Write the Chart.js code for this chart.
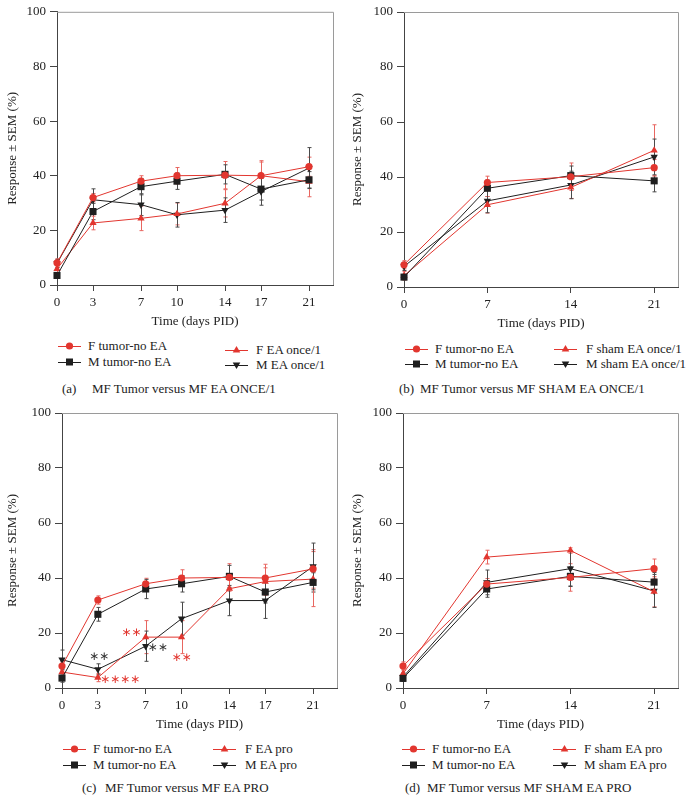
<!DOCTYPE html>
<html>
<head>
<meta charset="utf-8">
<script src="https://cdn.jsdelivr.net/npm/chart.js@4.4.1/dist/chart.umd.min.js"></script>
<style>
  body { margin: 0; background: #fff; width: 689px; height: 804px; position: relative; overflow: hidden;
         font-family: "Liberation Serif", "DejaVu Serif", serif; color: #222; }
  canvas { position: absolute; }
  .leg { position: absolute; font-size: 13px; line-height: 16px; white-space: nowrap; }
  .cap { position: absolute; font-size: 13px; line-height: 16px; white-space: pre; }
  svg { position: absolute; }
</style>
</head>
<body>
<script>
// days post implant
const daysLong = [0, 3, 7, 10, 14, 17, 21];
const daysShort = [0, 7, 14, 21];

// (a) MF tumor vs MF EA once/1
const aFTumor = [8.1, 32, 38, 40, 40.2, 40, 43.3];
const aFTumorErr = [1.5, 1.5, 2, 3, 5, 5, 3.5];
const aMTumor = [3.5, 26.9, 36, 38, 40.5, 35.1, 38.5];
const aMTumorErr = [1, 3, 3, 3, 3.5, 4, 3];
const aFOnce = [5.9, 22.7, 24.4, 26, 29.9, 40, 37.8];
const aFOnceErr = [1.5, 2.5, 4.5, 4, 5, 5.5, 5.5];
const aMOnce = [7.9, 31.2, 29.4, 25.7, 27.4, 34.2, 42.8];
const aMOnceErr = [1.5, 4, 4, 4.5, 4.5, 5, 7.5];

// (b) MF tumor vs MF sham EA once/1
const bFTumor = [8.1, 38, 40.1, 43.4];
const bFTumorErr = [1.5, 2.3, 5, 3];
const bMTumor = [3.6, 35.9, 40.5, 38.6];
const bMTumorErr = [1, 3, 3.5, 4];
const bFSham = [4.1, 29.9, 36.2, 49.7];
const bFShamErr = [1.5, 3, 4, 9.3];
const bMSham = [7.5, 31.3, 37.1, 47.3];
const bMShamErr = [1.5, 4.3, 5, 6.5];

// (c) MF tumor vs MF EA pro
const cFTumor = [8, 32, 37.9, 40, 40.2, 40, 43.3];
const cFTumorErr = [1.5, 1.5, 2, 3, 5, 5, 7];
const cMTumor = [3.6, 26.8, 36, 37.9, 40.6, 34.9, 38.4];
const cMTumorErr = [1.5, 2.5, 3.5, 3, 4, 4, 3.5];
const cFPro = [5.8, 3.8, 18.5, 18.5, 36.1, 38.7, 39.6];
const cFProErr = [2, 1.5, 6, 6, 4, 5, 10];
const cMPro = [10.3, 6.8, 15.2, 25.2, 31.8, 31.8, 44.2];
const cMProErr = [3.5, 2, 5.5, 6, 5.5, 6.5, 8.5];
// significance marks: [day, value, text, red?]
const cMarks = [
  [3.1, 11.3, '∗∗', false],
  [5.8, 20, '∗∗', true],
  [8.0, 14.5, '∗∗', false],
  [10.0, 10.9, '∗∗', true],
  [4.85, 2.9, '∗∗∗∗', true]
];

// (d) MF tumor vs MF sham EA pro
const dFTumor = [8, 37.8, 40.2, 43.4];
const dFTumorErr = [1.5, 2, 5, 3.5];
const dMTumor = [3.5, 36, 40.6, 38.5];
const dMTumorErr = [1, 3, 3.5, 3.5];
const dFSham = [5.2, 47.6, 50, 35];
const dFShamErr = [1.5, 2.5, 1, 5.5];
const dMSham = [4, 38.4, 43.4, 35.3];
const dMShamErr = [1.5, 4.5, 6.5, 6];

const RED = '#e2362f';
const DARK = '#1f1f1f';
const RED_ERR = '#e86660';
const DARK_ERR = '#4a4a4a';
const FONT = '"Liberation Serif", "DejaVu Serif", serif';

const kinds = {
  fTumor: { color: RED, err: RED_ERR, style: 'circle', radius: 3.6, rot: 0 },
  mTumor: { color: DARK, err: DARK_ERR, style: 'rect', radius: 5, rot: 0 },
  fEA: { color: RED, err: RED_ERR, style: 'triangle', radius: 4.2, rot: 0 },
  mEA: { color: DARK, err: DARK_ERR, style: 'triangle', radius: 4.2, rot: 180 }
};

const panels = [
  { left: 0, top: 0, w: 345, plot: { l: 57, t: 10, r: 333, b: 285 }, days: daysLong,
    series: [['fTumor', 'F tumor-no EA', aFTumor, aFTumorErr], ['mTumor', 'M tumor-no EA', aMTumor, aMTumorErr],
             ['fEA', 'F EA once/1', aFOnce, aFOnceErr], ['mEA', 'M EA once/1', aMOnce, aMOnceErr]],
    leg: [[58, 346], [58, 362], [225, 350], [225, 365]], legText: [88, 88, 256, 256],
    cap: [[62, 389, '(a)'], [92, 389, 'MF Tumor versus MF EA ONCE/1']], marks: [] },
  { left: 345, top: 0, w: 344, plot: { l: 59, t: 12, r: 333, b: 287 }, days: daysShort,
    series: [['fTumor', 'F tumor-no EA', bFTumor, bFTumorErr], ['mTumor', 'M tumor-no EA', bMTumor, bMTumorErr],
             ['fEA', 'F sham EA once/1', bFSham, bFShamErr], ['mEA', 'M sham EA once/1', bMSham, bMShamErr]],
    leg: [[405, 349], [405, 364], [554, 349], [554, 364]], legText: [435, 435, 586, 586],
    cap: [[399, 389, '(b)'], [420, 389, 'MF Tumor versus MF SHAM EA ONCE/1']], marks: [] },
  { left: 0, top: 400, w: 345, plot: { l: 62, t: 13, r: 337, b: 288 }, days: daysLong,
    series: [['fTumor', 'F tumor-no EA', cFTumor, cFTumorErr], ['mTumor', 'M tumor-no EA', cMTumor, cMTumorErr],
             ['fEA', 'F EA pro', cFPro, cFProErr], ['mEA', 'M EA pro', cMPro, cMProErr]],
    leg: [[63, 749], [63, 765], [213, 749], [213, 765]], legText: [93, 93, 245, 245],
    cap: [[82, 788, '(c)'], [105, 788, 'MF Tumor versus MF EA PRO']], marks: cMarks },
  { left: 345, top: 400, w: 344, plot: { l: 58, t: 13, r: 333, b: 288 }, days: daysShort,
    series: [['fTumor', 'F tumor-no EA', dFTumor, dFTumorErr], ['mTumor', 'M tumor-no EA', dMTumor, dMTumorErr],
             ['fEA', 'F sham EA pro', dFSham, dFShamErr], ['mEA', 'M sham EA pro', dMSham, dMShamErr]],
    leg: [[402, 749], [402, 765], [553, 749], [553, 765]], legText: [432, 432, 584, 584],
    cap: [[405, 788, '(d)'], [427, 788, 'MF Tumor versus MF SHAM EA PRO']], marks: [] }
];

// error bars under the markers
const errorBars = {
  id: 'errorBars',
  beforeDatasetsDraw(chart) {
    const { ctx, scales: { x, y } } = chart;
    ctx.save();
    ctx.lineWidth = 1;
    chart.data.datasets.forEach((ds, i) => {
      ds.errors.forEach((e, j) => {
        const px = Math.round(x.getPixelForValue(ds.data[j].x)) + 0.5;
        const y1 = y.getPixelForValue(ds.data[j].y + e);
        const y2 = y.getPixelForValue(ds.data[j].y - e);
        ctx.strokeStyle = ds.errColor;
        ctx.beginPath();
        ctx.moveTo(px, y1); ctx.lineTo(px, y2);
        ctx.moveTo(px - 2, y1); ctx.lineTo(px + 2, y1);
        ctx.moveTo(px - 2, y2); ctx.lineTo(px + 2, y2);
        ctx.stroke();
      });
    });
    ctx.restore();
  }
};

// grey top/right frame + significance stars
const frame = {
  id: 'frame',
  afterDraw(chart, args, opts) {
    const { ctx, chartArea: a, scales: { x, y } } = chart;
    ctx.save();
    ctx.strokeStyle = '#9a9a9a';
    ctx.lineWidth = 1;
    ctx.beginPath();
    ctx.moveTo(a.left, a.top + 0.5); ctx.lineTo(a.right + 0.5, a.top + 0.5);
    ctx.lineTo(a.right + 0.5, a.bottom);
    ctx.stroke();
    ctx.font = '12px "DejaVu Sans", sans-serif';
    ctx.textAlign = 'center';
    ctx.textBaseline = 'middle';
    (opts.marks || []).forEach(m => {
      ctx.fillStyle = m[3] ? RED : '#333';
      ctx.fillText(m[2], x.getPixelForValue(m[0]), y.getPixelForValue(m[1]));
    });
    ctx.restore();
  }
};

function markerSvg(k) {
  const s = kinds[k];
  let m = '';
  if (s.style === 'circle') m = `<circle cx="11.5" cy="5" r="3.6" fill="${s.color}"/>`;
  else if (s.style === 'rect') m = `<rect x="8" y="1.5" width="7" height="7" fill="${s.color}"/>`;
  else if (s.rot === 0) m = `<polygon points="11.5,1 15.3,7.6 7.7,7.6" fill="${s.color}"/>`;
  else m = `<polygon points="11.5,9 15.3,2.4 7.7,2.4" fill="${s.color}"/>`;
  return `<line x1="0" y1="5.5" x2="23" y2="5.5" stroke="${s.color}" stroke-width="1"/>` + m;
}

panels.forEach(p => {
  const h = p.plot.b + 50;
  const cv = document.createElement('canvas');
  cv.width = p.w; cv.height = h;
  cv.style.left = p.left + 'px'; cv.style.top = p.top + 'px';
  document.body.appendChild(cv);

  const datasets = p.series.map(([k, label, vals, errs]) => {
    const s = kinds[k];
    return {
      label,
      data: p.days.map((d, i) => ({ x: d, y: vals[i] })),
      errors: errs,
      errColor: s.err,
      borderColor: s.color,
      backgroundColor: s.color,
      borderWidth: 1,
      pointStyle: s.style,
      pointRadius: s.radius,
      pointRotation: s.rot,
      pointBorderWidth: 0,
      pointBackgroundColor: s.color,
      tension: 0,
      clip: false
    };
  });

  new Chart(cv.getContext('2d'), {
    type: 'line',
    data: { datasets },
    plugins: [errorBars, frame],
    options: {
      responsive: false,
      animation: false,
      events: [],
      layout: { padding: { left: 0, top: p.plot.t, right: p.w - p.plot.r, bottom: 0 } },
      plugins: { legend: { display: false }, tooltip: { enabled: false }, frame: { marks: p.marks } },
      scales: {
        x: {
          type: 'linear', min: 0, max: 23,
          afterBuildTicks: sc => { sc.ticks = p.days.map(v => ({ value: v })); },
          afterFit: sc => { sc.height = 50; },
          grid: { display: true, drawOnChartArea: false, drawTicks: true, tickLength: 6, color: '#444' },
          border: { display: true, color: '#444', width: 1 },
          ticks: { padding: 4, color: '#222', font: { family: FONT, size: 13 }, callback: v => v },
          title: { display: true, text: 'Time (days PID)', color: '#222', font: { family: FONT, size: 13 },
                   padding: { top: 0, bottom: 6 } }
        },
        y: {
          min: 0, max: 100,
          afterFit: sc => { sc.width = p.plot.l; },
          grid: { display: true, drawOnChartArea: false, drawTicks: true, tickLength: 7, color: '#444' },
          border: { display: true, color: '#444', width: 1 },
          ticks: { stepSize: 20, padding: 4, color: '#222', font: { family: FONT, size: 13 } },
          title: { display: true, text: 'Response ± SEM (%)', color: '#222', font: { family: FONT, size: 13 },
                   padding: { top: 5, bottom: 0 } }
        }
      }
    }
  });

  // legend (two columns)
  p.series.forEach(([k, label], i) => {
    const [lx, ly] = p.leg[i];
    const svg = document.createElementNS('http://www.w3.org/2000/svg', 'svg');
    svg.setAttribute('width', '23'); svg.setAttribute('height', '11');
    svg.style.left = lx + 'px'; svg.style.top = (ly - 5.5) + 'px';
    svg.innerHTML = markerSvg(k);
    document.body.appendChild(svg);
    const t = document.createElement('div');
    t.className = 'leg';
    t.textContent = label;
    t.style.left = p.legText[i] + 'px'; t.style.top = (ly - 8) + 'px';
    document.body.appendChild(t);
  });

  p.cap.forEach(([cx, cy, txt]) => {
    const c = document.createElement('div');
    c.className = 'cap';
    c.textContent = txt;
    c.style.left = cx + 'px'; c.style.top = (cy - 8) + 'px';
    document.body.appendChild(c);
  });
});
</script>
</body>
</html>
